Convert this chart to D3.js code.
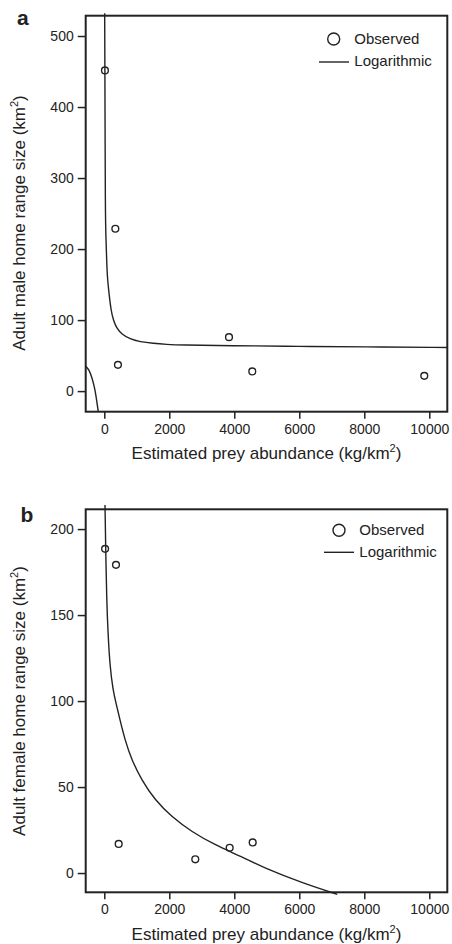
<!DOCTYPE html>
<html><head><meta charset="utf-8">
<script src="https://cdn.jsdelivr.net/npm/d3@7/dist/d3.min.js"></script>
<style>
html,body{margin:0;padding:0;background:#fff;}
svg{display:block;font-family:"Liberation Sans",Arial,Helvetica,sans-serif;}
</style></head>
<body>
<svg id="chart" width="452" height="944"></svg>
<script>
// ---------- data ----------
const xTicks = [0, 2000, 4000, 6000, 8000, 10000];
const maleTicks = [0, 100, 200, 300, 400, 500];
const femaleTicks = [0, 50, 100, 150, 200];

// observed points (prey abundance kg/km2, home range km2)
const maleObsX = [20, 340, 420, 3837, 4554, 9846];
const maleObsY = [451.5, 228.6, 37, 76, 27.7, 21.5];
const femaleObsX = [25, 360, 443, 2800, 3858, 4566];
const femaleObsY = [188.5, 179.2, 16.9, 8, 14.7, 17.8];

// logarithmic fit curve
const maleFitX = [12, 22, 31, 50, 74, 92, 145, 206, 277, 382, 535, 791, 1098, 1508, 1920, 2329, 3868, 6000, 8000, 10554];
const maleFitY = [532, 410, 255, 215, 184.5, 161, 137.6, 114, 100, 88.3, 80.3, 73.2, 69.4, 67.2, 65.8, 64.8, 64, 63, 62.3, 61.5];
// branch for negative abundance
const maleFitNegX = [-572, -471, -388, -317, -265, -185];
const maleFitNegY = [35.2, 30.5, 20.1, 8.5, -3.2, -29];

const femaleFitX = [22, 43, 74, 114, 175, 268, 360, 477, 637, 843, 1151, 1560, 2074, 2689, 3406, 4228, 4945, 6123, 7169];
const femaleFitY = [214, 188.8, 158.7, 139.4, 120, 106.4, 98.8, 89.5, 77.3, 65.7, 54.1, 42.4, 32.7, 24, 16.3, 9.5, 2.7, -6, -12.4];

const xDomain = [-572, 10554];
const maleDomain = [-29, 528.6];
const femaleDomain = [-11.2, 211.5];

// ---------- drawing ----------
const svg = d3.select("#chart");
const ink = "#222";
const zip = (xs, ys) => xs.map((v, i) => [v, ys[i]]);

function panel(o) {
  const x = d3.scaleLinear().domain(xDomain).range([o.left, o.right]);
  const y = d3.scaleLinear().domain(o.yDomain).range([o.bottom, o.top]);
  const g = svg.append("g");

  // axes
  const ax = g.append("g").attr("transform", `translate(0,${o.bottom})`)
    .call(d3.axisBottom(x).tickValues(xTicks).tickSize(7).tickPadding(5).tickFormat(d3.format("d")));
  const ay = g.append("g").attr("transform", `translate(${o.left},0)`)
    .call(d3.axisLeft(y).tickValues(o.yTicks).tickSize(8).tickPadding(4).tickFormat(d3.format("d")));
  [ax, ay].forEach(a => {
    a.select(".domain").remove();
    a.selectAll("line").attr("stroke", ink).attr("stroke-width", 1.5);
    a.selectAll("text").attr("fill", ink).style("font-size", "14px")
      .style("font-family", '"Liberation Sans",Arial,sans-serif');
  });

  // frame
  g.append("rect").attr("x", o.left).attr("y", o.top)
    .attr("width", o.right - o.left).attr("height", o.bottom - o.top)
    .attr("fill", "none").attr("stroke", ink).attr("stroke-width", 2);

  // fit curves
  const line = d3.line().x(d => x(d[0])).y(d => y(d[1])).curve(d3.curveBasis);
  o.curves.forEach(c => {
    g.append("path").attr("d", line(c)).attr("fill", "none")
      .attr("stroke", ink).attr("stroke-width", 1.4);
  });

  // observed points
  g.selectAll("circle.obs").data(o.points).join("circle").attr("class", "obs")
    .attr("cx", d => x(d[0])).attr("cy", d => y(d[1])).attr("r", 3.4)
    .attr("fill", "none").attr("stroke", ink).attr("stroke-width", 1.4);

  // legend
  const L = o.legend;
  g.append("circle").attr("cx", L.cx).attr("cy", L.cy).attr("r", 6)
    .attr("fill", "none").attr("stroke", ink).attr("stroke-width", 1.4);
  g.append("text").attr("x", L.tx).attr("y", L.b1).text("Observed")
    .attr("fill", ink).style("font-size", "15px");
  g.append("line").attr("x1", L.lx1).attr("x2", L.lx2).attr("y1", L.ly).attr("y2", L.ly)
    .attr("stroke", ink).attr("stroke-width", 1.4);
  g.append("text").attr("x", L.tx).attr("y", L.b2).text("Logarithmic")
    .attr("fill", ink).style("font-size", "15px");

  // x title
  const xt = g.append("text").attr("x", (o.left + o.right) / 2).attr("y", o.bottom + 47.6)
    .attr("text-anchor", "middle").attr("fill", ink).style("font-size", "17px");
  xt.append("tspan").text("Estimated prey abundance (kg/km");
  xt.append("tspan").text("2").style("font-size", "11px").attr("dy", -7);
  xt.append("tspan").text(")").attr("dy", 7);

  // y title
  const yt = g.append("text").attr("transform", `translate(25,${o.yTitleC}) rotate(-90)`)
    .attr("text-anchor", "middle").attr("fill", ink).style("font-size", "17px");
  yt.append("tspan").text(o.yTitle + " (km");
  yt.append("tspan").text("2").style("font-size", "11px").attr("dy", -7);
  yt.append("tspan").text(")").attr("dy", 7);

  // panel letter
  g.append("text").attr("x", o.letterX).attr("y", o.letterY).text(o.letter)
    .attr("fill", ink).style("font-size", "21px").style("font-weight", "bold");
}

panel({
  left: 85.7, right: 447.3, top: 15.7, bottom: 411.7,
  yDomain: maleDomain, yTicks: maleTicks,
  curves: [zip(maleFitX, maleFitY), zip(maleFitNegX, maleFitNegY)],
  points: zip(maleObsX, maleObsY),
  legend: {cx: 333.7, cy: 39, tx: 354.3, b1: 43.5, lx1: 319, lx2: 349, ly: 62, b2: 66},
  yTitle: "Adult male home range size", yTitleC: 223,
  letter: "a", letterX: 17, letterY: 25
});

panel({
  left: 85.7, right: 447.3, top: 509.3, bottom: 892.3,
  yDomain: femaleDomain, yTicks: femaleTicks,
  curves: [zip(femaleFitX, femaleFitY)],
  points: zip(femaleObsX, femaleObsY),
  legend: {cx: 339, cy: 530.3, tx: 359.3, b1: 534.5, lx1: 324, lx2: 354, ly: 552.3, b2: 557},
  yTitle: "Adult female home range size", yTitleC: 701,
  letter: "b", letterX: 20.5, letterY: 522.3
});
</script>
</body></html>
